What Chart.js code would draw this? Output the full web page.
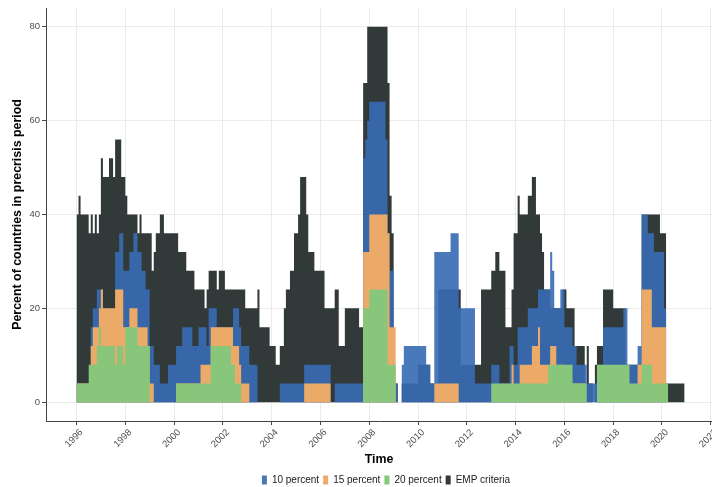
<!DOCTYPE html>
<html lang="en">
<head>
  <meta charset="UTF-8">
  <title>precrisis periods</title>
  <script src="https://cdn.jsdelivr.net/npm/chart.js@4.4.1/dist/chart.umd.min.js"></script>
  <style>
    html, body { margin: 0; padding: 0; background: #fff; }
  </style>
</head>
<body>
  <canvas id="chart" width="712" height="487"></canvas>
  <script>
    // monthly values, Jan 1996 .. Dec 2020 (one row per year)
    const startYear = 1996;
    const xTicks = [1996, 1998, 2000, 2002, 2004, 2006, 2008, 2010, 2012, 2014, 2016, 2018, 2020, 2022];
    const yTicks = [0, 20, 40, 60, 80];

    const emp = [
      40,44,40,40,40,40,36,40,36,40,36,40,
      52,48,48,48,52,52,48,56,56,56,48,48,
      44,40,40,40,40,40,36,40,36,36,36,36,
      36,28,32,36,36,40,40,36,36,36,36,36,
      36,36,32,32,32,32,28,28,28,28,24,24,
      24,24,24,20,24,28,28,28,28,24,28,28,
      28,24,24,24,24,24,24,24,24,24,24,20,
      20,20,20,20,20,24,16,16,16,16,16,12,
      12,12,8,8,12,12,20,24,24,28,28,36,
      36,40,48,48,48,40,32,32,32,28,28,28,
      28,28,20,20,20,20,20,24,24,12,12,12,
      20,20,20,20,20,20,20,16,16,68,68,80,
      80,80,80,80,80,80,80,80,80,68,44,36,
      4,4,0,0,4,4,4,4,4,4,4,4,
      8,8,8,8,8,8,4,4,4,4,24,24,
      24,24,24,24,24,24,24,24,24,8,8,8,
      8,8,8,8,8,8,8,24,24,24,24,24,
      28,28,32,32,28,28,28,16,16,16,24,36,
      36,44,40,40,40,40,44,44,48,48,40,40,
      36,32,24,24,24,20,20,20,20,20,20,24,
      24,20,20,20,20,12,12,12,12,12,4,12,
      4,4,0,8,12,12,12,24,24,24,24,24,
      20,20,20,20,20,20,8,8,8,8,8,8,
      8,8,40,40,40,40,40,40,40,40,40,36,
      36,36,4,4,4,4,4,4,4,4,4,0
    ];

    const pct10 = [
      4,4,4,4,4,4,4,16,20,20,24,24,
      24,20,20,20,20,20,20,32,32,36,36,28,
      28,28,32,32,36,36,32,32,28,28,24,24,
      12,12,8,8,8,4,4,4,4,8,8,8,
      8,12,12,12,16,16,16,16,16,12,12,12,
      16,16,16,16,12,20,20,20,20,16,16,16,
      16,16,16,16,16,20,20,20,16,12,12,12,
      12,8,8,8,8,0,0,0,0,0,0,0,
      0,0,0,0,4,4,4,4,4,4,4,4,
      4,4,4,4,8,8,8,8,8,8,8,8,
      8,8,8,8,8,0,0,4,4,4,4,4,
      4,4,4,4,4,4,4,4,4,52,56,60,
      64,64,64,64,64,64,64,64,56,36,28,28,
      4,4,0,0,8,12,12,12,12,12,12,12,
      12,12,12,12,8,8,4,4,32,32,32,32,
      32,32,32,32,36,36,36,36,20,20,20,20,
      20,20,20,20,4,4,4,4,4,4,4,4,
      8,8,8,8,4,4,4,4,4,12,12,8,
      8,16,16,16,16,16,20,20,20,20,20,24,
      24,24,24,24,24,32,28,20,20,20,24,24,
      16,16,16,16,12,12,8,8,8,8,8,4,
      4,4,4,4,8,8,8,16,16,16,16,16,
      16,16,16,16,16,20,20,8,8,8,8,8,
      12,12,40,40,40,36,36,36,32,32,32,32,
      32,20,0,0,0,0,0,0,0,0,0,0
    ];

    const pct15 = [
      4,4,4,4,4,4,4,12,16,16,16,20,
      24,20,20,20,20,20,20,24,24,24,24,16,
      16,16,20,20,20,20,16,16,16,16,16,12,
      4,4,0,0,0,0,0,0,0,0,0,0,
      0,4,4,4,4,4,4,4,4,4,4,4,
      4,8,8,8,8,8,16,16,16,16,16,16,
      16,16,16,16,16,12,12,12,8,4,4,4,
      4,0,0,0,0,0,0,0,0,0,0,0,
      0,0,0,0,0,0,0,0,0,0,0,0,
      0,0,0,0,4,4,4,4,4,4,4,4,
      4,4,4,4,4,0,0,0,0,0,0,0,
      0,0,0,0,0,0,0,0,0,32,32,32,
      40,40,40,40,40,40,40,40,40,36,16,16,
      16,0,0,0,0,0,0,0,0,0,0,0,
      0,0,0,0,0,0,0,0,4,4,4,4,
      4,4,4,4,4,4,4,4,0,0,0,0,
      0,0,0,0,0,0,0,0,0,0,0,0,
      0,0,0,0,0,0,0,0,0,0,8,0,
      0,0,8,8,8,8,8,8,12,12,12,16,
      8,8,8,8,8,12,12,12,8,8,8,8,
      4,4,4,4,4,4,4,4,4,4,0,0,
      0,0,0,0,0,0,0,0,0,0,0,0,
      0,0,0,0,0,0,0,0,0,0,0,0,
      8,8,24,24,24,24,24,16,16,16,16,16,
      16,16,0,0,0,0,0,0,0,0,0,0
    ];

    const pct20 = [
      4,4,4,4,4,4,8,8,8,8,12,16,
      12,12,12,12,12,12,12,8,12,12,12,8,
      16,16,16,16,16,16,12,12,12,12,12,12,
      0,0,0,0,0,0,0,0,0,0,0,0,
      0,4,4,4,4,4,4,4,4,4,4,4,
      4,4,4,4,4,4,12,12,12,12,12,12,
      12,12,12,12,8,8,4,4,4,0,0,0,
      0,0,0,0,0,0,0,0,0,0,0,0,
      0,0,0,0,0,0,0,0,0,0,0,0,
      0,0,0,0,0,0,0,0,0,0,0,0,
      0,0,0,0,0,0,0,0,0,0,0,0,
      0,0,0,0,0,0,0,0,0,20,20,20,
      24,24,24,24,24,24,24,24,24,8,8,8,
      8,0,0,0,0,0,0,0,0,0,0,0,
      0,0,0,0,0,0,0,0,0,0,0,0,
      0,0,0,0,0,0,0,0,0,0,0,0,
      0,0,0,0,0,0,0,0,0,0,0,0,
      4,4,4,4,4,4,4,4,4,4,4,4,
      4,4,4,4,4,4,4,4,4,4,4,4,
      4,4,4,4,8,8,8,8,8,8,8,8,
      8,8,8,8,4,4,4,4,4,4,4,0,
      0,0,0,0,8,8,8,8,8,8,8,8,
      8,8,8,8,8,8,8,8,4,4,4,4,
      4,4,8,8,8,8,8,4,4,4,4,4,
      4,4,4,0,0,0,0,0,0,0,0,0
    ];

    // each month covers [start, start + 1/12)
    const toPoints = (vals) => {
      const pts = vals.map((v, i) => ({ x: startYear + i / 12, y: v }));
      pts.push({ x: startYear + vals.length / 12, y: 0 });
      return pts;
    };

    const series = (label, vals, color, order) => ({
      label: label,
      data: toPoints(vals),
      stepped: true,
      fill: 'origin',
      backgroundColor: color,
      borderColor: 'rgba(0,0,0,0)',
      borderWidth: 0,
      pointRadius: 0,
      order: order
    });

    const FONT = "'Liberation Sans', Arial, sans-serif";

    const legendShift = {
      id: 'legendShift',
      afterLayout(chart) {
        chart.legend.left = 60;
      }
    };

    new Chart(document.getElementById('chart'), {
      type: 'line',
      data: {
        datasets: [
          series('10 percent', pct10, 'rgba(56,108,180,0.91)', 2),
          series('15 percent', pct15, '#ecaa68', 1),
          series('20 percent', pct20, '#88c67b', 0),
          series('EMP criteria', emp, '#313a38', 3)
        ]
      },
      options: {
        responsive: false,
        animation: false,
        layout: { padding: { top: 8, left: 0, right: 0, bottom: 0 } },
        plugins: {
          tooltip: { enabled: false },
          legend: {
            position: 'bottom',
            maxHeight: 16,
            labels: {
              boxWidth: 5,
              boxHeight: 9,
              padding: 4,
              color: '#1a1a1a',
              font: { family: FONT, size: 10 },
              sort: (a, b) => a.datasetIndex - b.datasetIndex
            }
          }
        },
        scales: {
          x: {
            type: 'linear',
            min: 1994.75,
            max: 2022.05,
            afterBuildTicks: (s) => { s.ticks = xTicks.map(v => ({ value: v })); },
            afterFit: (s) => { s.height = 50; s.paddingLeft = 0; s.paddingRight = 0; },
            grid: { color: '#ebebeb', lineWidth: 1, tickColor: '#444444', tickLength: 4 },
            border: { color: '#444444', width: 1 },
            ticks: {
              autoSkip: false,
              minRotation: 45,
              maxRotation: 45,
              padding: 2,
              labelOffset: 5,
              color: '#4d4d4d',
              font: { family: FONT, size: 9.5 },
              callback: (v) => String(v)
            },
            title: {
              display: true,
              text: 'Time',
              color: '#000',
              padding: { top: 0, bottom: 4 },
              font: { family: FONT, size: 12.4, weight: 'bold' }
            }
          },
          y: {
            min: -4,
            max: 84,
            afterBuildTicks: (s) => { s.ticks = yTicks.map(v => ({ value: v })); },
            afterFit: (s) => { s.width = 46; s.paddingTop = 0; s.paddingBottom = 0; },
            grid: { color: '#ebebeb', lineWidth: 1, tickColor: '#444444', tickLength: 4 },
            border: { color: '#444444', width: 1 },
            ticks: {
              padding: 2,
              color: '#4d4d4d',
              font: { family: FONT, size: 9.5 }
            },
            title: {
              display: true,
              text: 'Percent of countries in precrisis period',
              color: '#000',
              padding: { top: 10, bottom: 0 },
              font: { family: FONT, size: 12.4, weight: 'bold' }
            }
          }
        }
      },
      plugins: [legendShift]
    });
  </script>
</body>
</html>
